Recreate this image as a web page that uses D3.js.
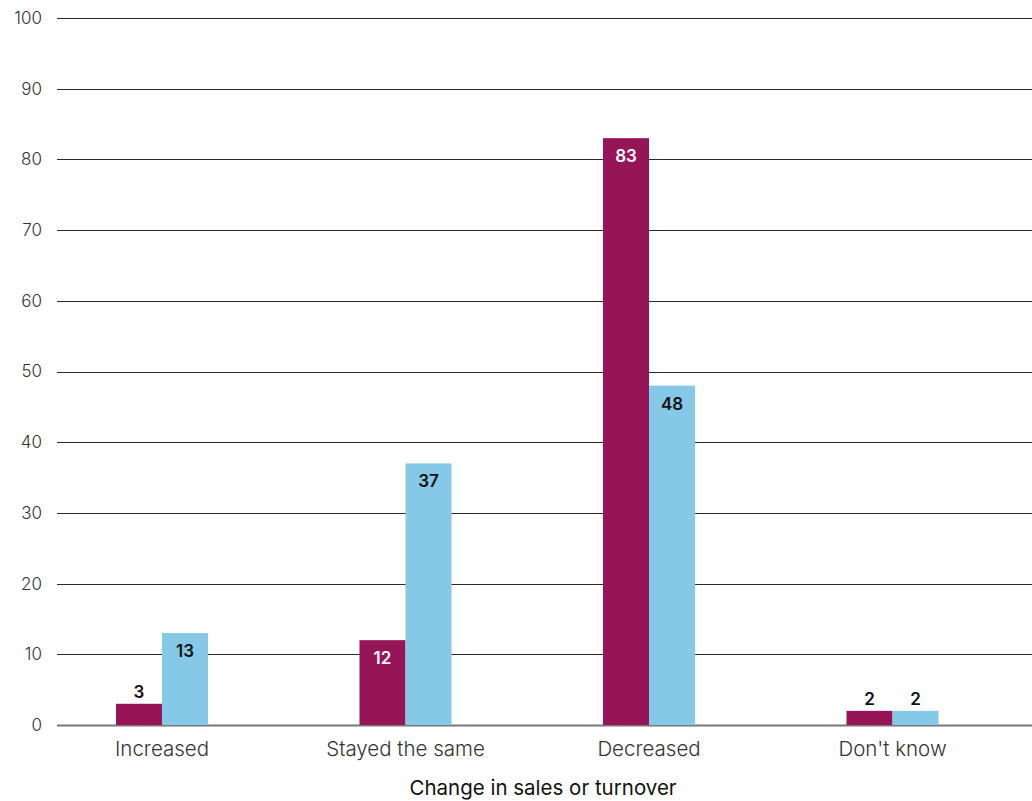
<!DOCTYPE html>
<html>
<head>
<meta charset="utf-8">
<script src="https://cdn.jsdelivr.net/npm/d3@7"></script>
<style>
  html, body { margin: 0; padding: 0; background: #ffffff; }
  svg { display: block; font-family: Inter, "Liberation Sans", Arial, sans-serif; }
</style>
</head>
<body>
<svg id="chart" width="1032" height="801"></svg>
<script>
// Share of respondents by change in sales or turnover (two survey series)
const categories = ["Increased", "Stayed the same", "Decreased", "Don't know"];
const seriesA = [3, 12, 83, 2];
const seriesB = [13, 37, 48, 2];
const yTicks = [0, 10, 20, 30, 40, 50, 60, 70, 80, 90, 100];
const axisTitle = "Change in sales or turnover";

const colors = { seriesA: "#951556", seriesB: "#85c8e8" };
const labelColors = { seriesA: "#ffffff", seriesB: "#111111" };
const fontFamily = "Inter, Liberation Sans, Arial, sans-serif";

(function draw() {
  const svg = d3.select("#chart");
  const gridLeft = 57, gridRight = 1032;
  const plotTop = 18, plotBottom = 725;

  const y = d3.scaleLinear().domain([0, 100]).range([plotBottom, plotTop]);
  const x = d3.scaleBand().domain(categories).range([40.25, 1014.25]);
  const barW = 46;

  // Horizontal gridlines
  svg.append("g").selectAll("line")
    .data(yTicks)
    .join("line")
    .attr("x1", gridLeft).attr("x2", gridRight)
    .attr("y1", d => Math.round(y(d)) + 0.5).attr("y2", d => Math.round(y(d)) + 0.5)
    .attr("stroke", d => d === 0 ? "#777777" : "#2b2b2b")
    .attr("stroke-width", d => d === 0 ? 2 : 1);

  // Y axis labels
  const yAxis = d3.axisLeft(y).tickValues(yTicks).tickSize(0).tickPadding(0);
  const yg = svg.append("g").attr("transform", "translate(42,0)").call(yAxis);
  yg.select(".domain").remove();
  yg.selectAll("text")
    .attr("font-size", 17)
    .attr("font-weight", 300)
    .attr("fill", "#333333")
    .attr("font-family", fontFamily);

  // Bars
  const rows = categories.flatMap((c, i) => [
    { cat: c, key: "seriesA", value: seriesA[i] },
    { cat: c, key: "seriesB", value: seriesB[i] }
  ]);

  const barX = d => {
    const cx = x(d.cat) + x.bandwidth() / 2;
    return d.key === "seriesA" ? cx - barW : cx;
  };
  const barH = d => y(0) - y(d.value);

  svg.append("g").selectAll("rect")
    .data(rows)
    .join("rect")
    .attr("x", barX)
    .attr("y", d => y(d.value))
    .attr("width", barW)
    .attr("height", barH)
    .attr("fill", d => colors[d.key]);

  // Value labels: inside the bar top when there is room, otherwise above
  svg.append("g").selectAll("text")
    .data(rows)
    .join("text")
    .attr("x", d => barX(d) + barW / 2)
    .attr("y", d => barH(d) > 30 ? y(d.value) + 24 : y(d.value) - 6)
    .attr("text-anchor", "middle")
    .attr("font-size", 17)
    .attr("font-weight", 600)
    .attr("font-family", fontFamily)
    .attr("fill", d => barH(d) > 30 ? labelColors[d.key] : "#111111")
    .text(d => d.value);

  // X axis category labels
  const xAxis = d3.axisBottom(x).tickSize(0).tickPadding(0);
  const xg = svg.append("g").attr("transform", "translate(0,741)").call(xAxis);
  xg.select(".domain").remove();
  xg.selectAll("text")
    .attr("font-size", 20.5)
    .attr("font-weight", 300)
    .attr("fill", "#333333")
    .attr("font-family", fontFamily);

  // Axis title
  svg.append("text")
    .attr("x", 543)
    .attr("y", 795)
    .attr("text-anchor", "middle")
    .attr("font-size", 20.5)
    .attr("font-weight", 400)
    .attr("font-family", fontFamily)
    .attr("fill", "#111111")
    .text(axisTitle);
})();
</script>
</body>
</html>
